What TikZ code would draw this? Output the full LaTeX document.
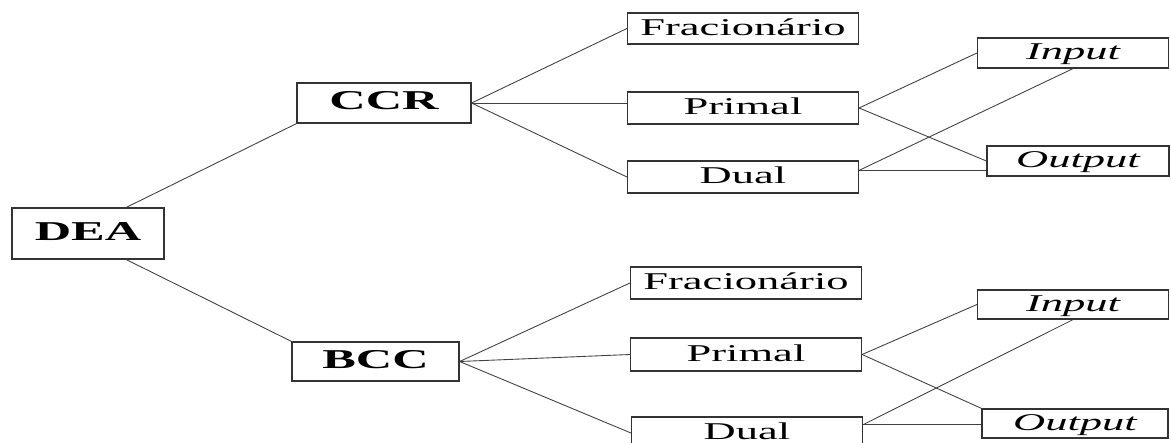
\documentclass[tikz,border=0pt]{standalone}
\usepackage{fontspec}
\setmainfont{Liberation Serif}[FakeStretch=1.85]
\usepackage{tikz}
\usetikzlibrary{calc}

\begin{document}
\begin{tikzpicture}[x=0.02cm, y=-0.02cm,
  box/.style={draw=black!80, line width=0.7pt, fill=white, inner sep=0pt, text height=10.5pt, text depth=3pt},
  rootbox/.style={box, font=\fontsize{15.5}{18}\selectfont\bfseries, minimum height=0.8cm},
  methodbox/.style={box, font=\fontsize{13.7}{16}\selectfont, minimum width=4.62cm, minimum height=0.64cm},
  orientbox/.style={box, font=\fontsize{13.7}{16}\selectfont\itshape, minimum height=0.6cm},
  link/.style={draw=black!75, line width=0.5pt}]
\clip (0,0) rectangle (1171,443);

% models
\node[rootbox, minimum width=3.04cm, minimum height=1.02cm] (dea) at (88,233.5) {DEA};
\node[rootbox, minimum width=3.48cm] (ccr) at (384,103) {CCR};
\node[rootbox, minimum width=3.34cm, minimum height=0.78cm] (bcc) at (375.5,361.5) {BCC};

% CCR branch
\node[methodbox, minimum height=0.62cm] (fracA) at (743,28.5) {Fracionário};
\node[methodbox] (primA) at (743,108) {Primal};
\node[methodbox] (dualA) at (743,177) {Dual};
\node[orientbox, minimum width=3.82cm] (inA) at (1073,53) {Input};
\node[orientbox, minimum width=3.64cm] (outA) at (1078,161) {Output};

% BCC branch
\node[methodbox] (fracB) at (746,283) {Fracionário};
\node[methodbox, minimum height=0.66cm] (primB) at (746,354.5) {Primal};
\node[methodbox] (dualB) at (747,433) {Dual};
\node[orientbox, minimum width=3.82cm, minimum height=0.58cm] (inB) at (1073,304.5) {Input};
\node[orientbox, minimum width=3.72cm, minimum height=0.58cm] (outB) at (1075,423.5) {Output};

\coordinate (deaTop) at ($(dea.north)!.5!(dea.north east)$);
\coordinate (deaBot) at ($(dea.south)!.5!(dea.south east)$);
\coordinate (dualAout) at ($(dualA.north east)!.3!(dualA.south east)$);
\coordinate (dualBout) at ($(dualB.north east)!.25!(dualB.south east)$);

\draw[link] (deaTop) -- (ccr.south west);
\draw[link] (deaBot) -- (bcc.north west);

\draw[link] (ccr.east) -- (fracA.west);
\draw[link] (ccr.east) -- (ccr.east -| primA.west);
\draw[link] (ccr.east) -- (dualA.west);
\draw[link] (primA.east) -- (inA.west);
\draw[link] (primA.east) -- (outA.west);
\draw[link] (dualAout) -- (inA.south);
\draw[link] (dualAout) -- (dualAout -| outA.west);

\draw[link] (bcc.east) -- (fracB.west);
\draw[link] (bcc.east) -- (primB.west);
\draw[link] (bcc.east) -- (dualB.west);
\draw[link] (primB.east) -- (inB.west);
\draw[link] (primB.east) -- (outB.north west);
\draw[link] (dualBout) -- (inB.south);
\draw[link] (dualBout) -- (dualBout -| outB.west);
\end{tikzpicture}
\end{document}
